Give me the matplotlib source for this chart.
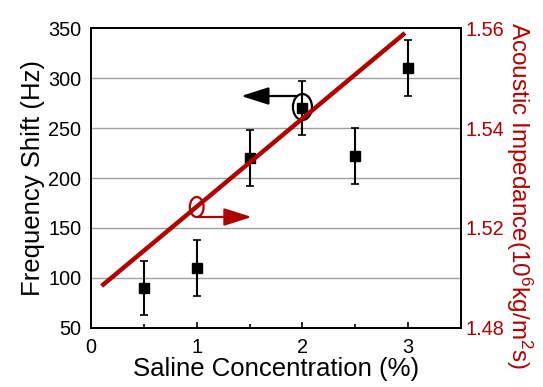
import matplotlib
matplotlib.use("Agg")
import matplotlib.pyplot as plt
from matplotlib.patches import Ellipse

plt.rcParams['font.family'] = ['Liberation Sans', 'DejaVu Sans']
plt.rcParams['mathtext.fontset'] = 'custom'
plt.rcParams['mathtext.rm'] = 'Liberation Sans'
plt.rcParams['mathtext.it'] = 'Liberation Sans'

concentration = [0.5, 1.0, 1.5, 2.0, 2.5, 3.0]
freq_shift = [90, 110, 220, 270, 222, 310]
freq_err = [27, 28, 28, 27, 28, 28]

imp_conc = [0.1, 2.97]
impedance = [1.5084, 1.559]

left_ticks = [50, 100, 150, 200, 250, 300, 350]
right_ticks = [1.50, 1.52, 1.54, 1.56]
right_tick_labels = ["1.48", "1.52", "1.54", "1.56"]
x_ticks = [0, 1, 2, 3]

RED = '#B00000'
TICK_FS = 14.3
LABEL_FS = 18.5

fig = plt.figure(figsize=(5.43, 3.87), dpi=100)
ax = fig.add_axes([0.1676, 0.1525, 0.849 - 0.1676, 0.9276 - 0.1525])
ax.set_xlim(0, 3.5)
ax.set_ylim(50, 350)
ax.set_yticks(left_ticks)
ax.set_xticks(x_ticks)
ax.set_xticks([0.5, 1.5, 2.5], minor=True)
for v in left_ticks[1:-1]:
    ax.axhline(v, color='#a0a0a0', lw=1.0, zorder=0)

ax.errorbar(concentration, freq_shift, yerr=freq_err, fmt='s', color='black',
            ms=7, capsize=3, elinewidth=1.5, capthick=1.2, zorder=3)

ax.tick_params(axis='x', which='major', direction='in', length=4, width=1.2,
               labelsize=TICK_FS, pad=7)
ax.tick_params(axis='x', which='minor', direction='in', length=3, width=1.2)
ax.tick_params(axis='y', which='major', direction='in', length=0,
               labelsize=TICK_FS, pad=7)
for s in ax.spines.values():
    s.set_linewidth(1.3)
ax.set_xlabel('Saline Concentration (%)', fontsize=LABEL_FS, labelpad=0)
ax.set_ylabel('Frequency Shift (Hz)', fontsize=LABEL_FS, labelpad=2)

ax2 = ax.twinx()
ax2.set_ylim(1.50, 1.56)
ax2.set_yticks(right_ticks)
ax2.set_yticklabels(right_tick_labels)
ax2.plot(imp_conc, impedance, color=RED, lw=3.2, zorder=2, solid_capstyle='butt')
ax2.tick_params(axis='y', direction='in', length=0, labelsize=TICK_FS,
                labelcolor=RED, pad=3)
ax2.set_ylabel('Acoustic Impedance(10$^6$kg/m$^2$s)', fontsize=17.5, color=RED,
               rotation=270)
ax2.yaxis.set_label_coords(1.158, 0.44)
ax2.yaxis.label.set_va('center')
ax2.yaxis.label.set_ha('center')
for s in ax2.spines.values():
    s.set_linewidth(1.3)

arrow_style = '-|>,head_length=0.85,head_width=0.27'
# annotations (left axis data)
ax.add_patch(Ellipse((2.0, 271), 0.18, 26, fill=False, ec='black', lw=1.6, zorder=4))
ax.annotate('', xy=(1.42, 282), xytext=(1.95, 282),
            arrowprops=dict(arrowstyle=arrow_style, mutation_scale=20,
                            color='black', lw=1.6, shrinkA=0, shrinkB=0), zorder=4)
ax.add_patch(Ellipse((1.0, 171), 0.13, 20, fill=False, ec=RED, lw=1.6, zorder=4))
ax.annotate('', xy=(1.52, 161), xytext=(1.02, 161),
            arrowprops=dict(arrowstyle=arrow_style, mutation_scale=20,
                            color=RED, lw=1.6, shrinkA=0, shrinkB=0), zorder=4)

fig.savefig('out.png', dpi=100)
